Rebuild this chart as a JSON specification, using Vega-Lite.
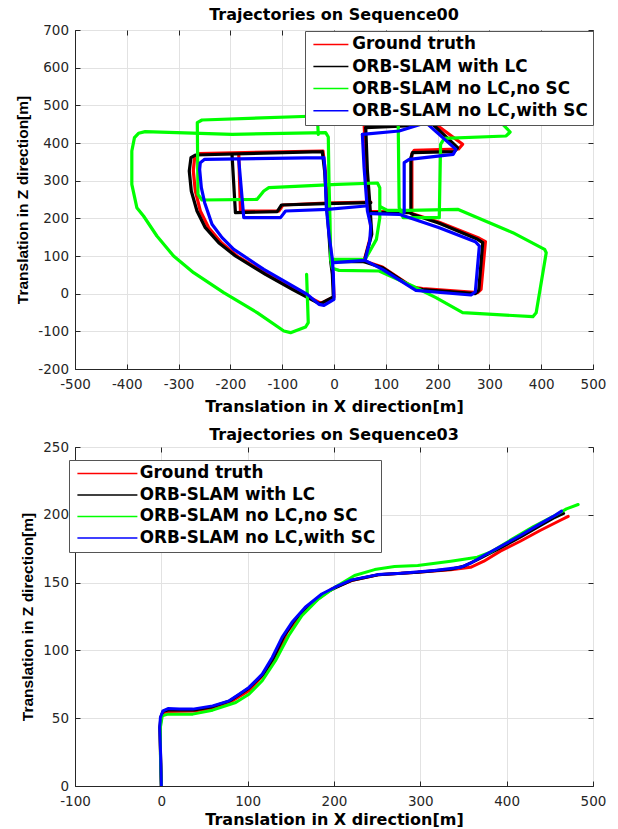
{
"$schema": "https://vega.github.io/schema/vega-lite/v6.json",
"background": "white",
"padding": {"left": 15, "top": 6, "right": 6, "bottom": 0},
"spacing": 11,
"datasets": {
"seq00": [
{"s":"Ground truth","g":"r1","i":0,"x":-22.6,"y":378.8},{"s":"Ground truth","g":"r1","i":1,"x":-261.3,"y":371.7},{"s":"Ground truth","g":"r1","i":2,"x":-269.0,"y":362.8},{"s":"Ground truth","g":"r1","i":3,"x":-271.6,"y":325.7},{"s":"Ground truth","g":"r1","i":4,"x":-267.7,"y":272.6},{"s":"Ground truth","g":"r1","i":5,"x":-258.1,"y":219.5},{"s":"Ground truth","g":"r1","i":6,"x":-241.9,"y":175.2},{"s":"Ground truth","g":"r1","i":7,"x":-217.4,"y":135.4},{"s":"Ground truth","g":"r1","i":8,"x":-187.1,"y":100.0},{"s":"Ground truth","g":"r1","i":9,"x":-129.0,"y":51.3},{"s":"Ground truth","g":"r1","i":10,"x":-77.4,"y":11.5},{"s":"Ground truth","g":"r1","i":11,"x":-30.3,"y":-22.1},{"s":"Ground truth","g":"r1","i":12,"x":-23.9,"y":-24.8},{"s":"Ground truth","g":"r1","i":13,"x":0,"y":-8.8},{"s":"Ground truth","g":"r1","i":14,"x":-1.9,"y":51.3},{"s":"Ground truth","g":"r1","i":15,"x":-5.2,"y":86.7},{"s":"Ground truth","g":"r1","i":16,"x":-8.4,"y":157.5},{"s":"Ground truth","g":"r1","i":17,"x":-12.9,"y":237.2},{"s":"Ground truth","g":"r1","i":18,"x":-16.8,"y":325.7},{"s":"Ground truth","g":"r1","i":19,"x":-21.3,"y":378.8},
{"s":"Ground truth","g":"r2","i":0,"x":-183.9,"y":371.7},{"s":"Ground truth","g":"r2","i":1,"x":-180.6,"y":219.5},{"s":"Ground truth","g":"r2","i":2,"x":-106.5,"y":219.5},{"s":"Ground truth","g":"r2","i":3,"x":-98.7,"y":235.4},{"s":"Ground truth","g":"r2","i":4,"x":-16.1,"y":240.7},{"s":"Ground truth","g":"r2","i":5,"x":71.0,"y":243.4},
{"s":"Ground truth","g":"r3","i":0,"x":58.1,"y":451.3},{"s":"Ground truth","g":"r3","i":1,"x":62.6,"y":325.7},{"s":"Ground truth","g":"r3","i":2,"x":67.7,"y":241.6},{"s":"Ground truth","g":"r3","i":3,"x":71.6,"y":157.5},{"s":"Ground truth","g":"r3","i":4,"x":58.1,"y":86.7},{"s":"Ground truth","g":"r3","i":5,"x":0,"y":86.7},
{"s":"Ground truth","g":"r4","i":0,"x":58.1,"y":86.7},{"s":"Ground truth","g":"r4","i":1,"x":93.5,"y":70.8},{"s":"Ground truth","g":"r4","i":2,"x":151.6,"y":17.7},{"s":"Ground truth","g":"r4","i":3,"x":171.0,"y":13.3},{"s":"Ground truth","g":"r4","i":4,"x":277.4,"y":2.7},{"s":"Ground truth","g":"r4","i":5,"x":283.9,"y":11.5},{"s":"Ground truth","g":"r4","i":6,"x":292.3,"y":138.1},{"s":"Ground truth","g":"r4","i":7,"x":280.6,"y":146.9},{"s":"Ground truth","g":"r4","i":8,"x":203.2,"y":189.4},{"s":"Ground truth","g":"r4","i":9,"x":151.6,"y":212.4},{"s":"Ground truth","g":"r4","i":10,"x":146.5,"y":217.7},{"s":"Ground truth","g":"r4","i":11,"x":71.0,"y":217.7},
{"s":"Ground truth","g":"r5","i":0,"x":58.1,"y":451.3},{"s":"Ground truth","g":"r5","i":1,"x":138.7,"y":454.0},{"s":"Ground truth","g":"r5","i":2,"x":180.6,"y":465.5},{"s":"Ground truth","g":"r5","i":3,"x":248.4,"y":396.5},{"s":"Ground truth","g":"r5","i":4,"x":240.6,"y":384.1},{"s":"Ground truth","g":"r5","i":5,"x":154.8,"y":380.5},{"s":"Ground truth","g":"r5","i":6,"x":150.3,"y":371.7},{"s":"Ground truth","g":"r5","i":7,"x":150.3,"y":217.7},
{"s":"ORB-SLAM with LC","g":"k1","i":0,"x":-22.6,"y":377.0},{"s":"ORB-SLAM with LC","g":"k1","i":1,"x":-267.7,"y":368.1},{"s":"ORB-SLAM with LC","g":"k1","i":2,"x":-276.1,"y":361.1},{"s":"ORB-SLAM with LC","g":"k1","i":3,"x":-279.4,"y":325.7},{"s":"ORB-SLAM with LC","g":"k1","i":4,"x":-275.5,"y":272.6},{"s":"ORB-SLAM with LC","g":"k1","i":5,"x":-264.5,"y":219.5},{"s":"ORB-SLAM with LC","g":"k1","i":6,"x":-248.4,"y":175.2},{"s":"ORB-SLAM with LC","g":"k1","i":7,"x":-222.6,"y":135.4},{"s":"ORB-SLAM with LC","g":"k1","i":8,"x":-190.3,"y":100.0},{"s":"ORB-SLAM with LC","g":"k1","i":9,"x":-132.3,"y":51.3},{"s":"ORB-SLAM with LC","g":"k1","i":10,"x":-80.6,"y":11.5},{"s":"ORB-SLAM with LC","g":"k1","i":11,"x":-32.3,"y":-23.9},{"s":"ORB-SLAM with LC","g":"k1","i":12,"x":-25.8,"y":-26.5},{"s":"ORB-SLAM with LC","g":"k1","i":13,"x":-1.3,"y":-8.8},{"s":"ORB-SLAM with LC","g":"k1","i":14,"x":-3.2,"y":51.3},{"s":"ORB-SLAM with LC","g":"k1","i":15,"x":-6.5,"y":86.7},{"s":"ORB-SLAM with LC","g":"k1","i":16,"x":-9.7,"y":157.5},{"s":"ORB-SLAM with LC","g":"k1","i":17,"x":-14.2,"y":237.2},{"s":"ORB-SLAM with LC","g":"k1","i":18,"x":-18.1,"y":325.7},{"s":"ORB-SLAM with LC","g":"k1","i":19,"x":-22.6,"y":377.0},
{"s":"ORB-SLAM with LC","g":"k2","i":0,"x":-196.8,"y":368.1},{"s":"ORB-SLAM with LC","g":"k2","i":1,"x":-190.3,"y":215.0},{"s":"ORB-SLAM with LC","g":"k2","i":2,"x":-109.7,"y":217.7},{"s":"ORB-SLAM with LC","g":"k2","i":3,"x":-101.3,"y":235.4},{"s":"ORB-SLAM with LC","g":"k2","i":4,"x":-16.1,"y":238.9},{"s":"ORB-SLAM with LC","g":"k2","i":5,"x":71.0,"y":241.6},
{"s":"ORB-SLAM with LC","g":"k3","i":0,"x":61.3,"y":440.7},{"s":"ORB-SLAM with LC","g":"k3","i":1,"x":64.5,"y":325.7},{"s":"ORB-SLAM with LC","g":"k3","i":2,"x":69.0,"y":241.6},{"s":"ORB-SLAM with LC","g":"k3","i":3,"x":72.9,"y":157.5},{"s":"ORB-SLAM with LC","g":"k3","i":4,"x":58.1,"y":85.0},{"s":"ORB-SLAM with LC","g":"k3","i":5,"x":0,"y":85.0},
{"s":"ORB-SLAM with LC","g":"k4","i":0,"x":58.1,"y":85.0},{"s":"ORB-SLAM with LC","g":"k4","i":1,"x":93.5,"y":69.0},{"s":"ORB-SLAM with LC","g":"k4","i":2,"x":151.6,"y":15.9},{"s":"ORB-SLAM with LC","g":"k4","i":3,"x":171.0,"y":10.6},{"s":"ORB-SLAM with LC","g":"k4","i":4,"x":272.9,"y":0},{"s":"ORB-SLAM with LC","g":"k4","i":5,"x":279.4,"y":8.8},{"s":"ORB-SLAM with LC","g":"k4","i":6,"x":287.1,"y":135.4},{"s":"ORB-SLAM with LC","g":"k4","i":7,"x":277.4,"y":144.2},{"s":"ORB-SLAM with LC","g":"k4","i":8,"x":203.2,"y":186.7},{"s":"ORB-SLAM with LC","g":"k4","i":9,"x":151.6,"y":210.6},{"s":"ORB-SLAM with LC","g":"k4","i":10,"x":145.2,"y":215.0},{"s":"ORB-SLAM with LC","g":"k4","i":11,"x":71.0,"y":215.0},
{"s":"ORB-SLAM with LC","g":"k5","i":0,"x":61.3,"y":440.7},{"s":"ORB-SLAM with LC","g":"k5","i":1,"x":138.7,"y":445.1},{"s":"ORB-SLAM with LC","g":"k5","i":2,"x":183.9,"y":458.4},{"s":"ORB-SLAM with LC","g":"k5","i":3,"x":238.7,"y":387.6},{"s":"ORB-SLAM with LC","g":"k5","i":4,"x":232.3,"y":377.0},{"s":"ORB-SLAM with LC","g":"k5","i":5,"x":151.6,"y":374.3},{"s":"ORB-SLAM with LC","g":"k5","i":6,"x":148.4,"y":361.1},{"s":"ORB-SLAM with LC","g":"k5","i":7,"x":148.4,"y":215.0},
{"s":"ORB-SLAM no LC,no SC","g":"g1","i":0,"x":-52.9,"y":51.3},{"s":"ORB-SLAM no LC,no SC","g":"g1","i":1,"x":-49.7,"y":-77.0},{"s":"ORB-SLAM no LC,no SC","g":"g1","i":2,"x":-54.8,"y":-88.5},{"s":"ORB-SLAM no LC,no SC","g":"g1","i":3,"x":-83.9,"y":-103.5},{"s":"ORB-SLAM no LC,no SC","g":"g1","i":4,"x":-96.8,"y":-99.1},{"s":"ORB-SLAM no LC,no SC","g":"g1","i":5,"x":-148.4,"y":-50.4},{"s":"ORB-SLAM no LC,no SC","g":"g1","i":6,"x":-212.9,"y":2.7},{"s":"ORB-SLAM no LC,no SC","g":"g1","i":7,"x":-271.0,"y":55.8},{"s":"ORB-SLAM no LC,no SC","g":"g1","i":8,"x":-309.7,"y":100.0},{"s":"ORB-SLAM no LC,no SC","g":"g1","i":9,"x":-341.9,"y":153.1},{"s":"ORB-SLAM no LC,no SC","g":"g1","i":10,"x":-367.7,"y":206.2},{"s":"ORB-SLAM no LC,no SC","g":"g1","i":11,"x":-380.6,"y":228.3},{"s":"ORB-SLAM no LC,no SC","g":"g1","i":12,"x":-390.3,"y":290.3},{"s":"ORB-SLAM no LC,no SC","g":"g1","i":13,"x":-390.3,"y":378.8},{"s":"ORB-SLAM no LC,no SC","g":"g1","i":14,"x":-385.2,"y":414.2},{"s":"ORB-SLAM no LC,no SC","g":"g1","i":15,"x":-377.4,"y":425.7},{"s":"ORB-SLAM no LC,no SC","g":"g1","i":16,"x":-364.5,"y":430.1},{"s":"ORB-SLAM no LC,no SC","g":"g1","i":17,"x":-196.8,"y":423.0},{"s":"ORB-SLAM no LC,no SC","g":"g1","i":18,"x":-16.1,"y":427.4},{"s":"ORB-SLAM no LC,no SC","g":"g1","i":19,"x":-11.0,"y":415.9},{"s":"ORB-SLAM no LC,no SC","g":"g1","i":20,"x":-9.7,"y":299.1},{"s":"ORB-SLAM no LC,no SC","g":"g1","i":21,"x":-7.7,"y":192.9},{"s":"ORB-SLAM no LC,no SC","g":"g1","i":22,"x":-6.5,"y":91.2},{"s":"ORB-SLAM no LC,no SC","g":"g1","i":23,"x":54.8,"y":91.2},
{"s":"ORB-SLAM no LC,no SC","g":"g2","i":0,"x":-30.3,"y":423.0},{"s":"ORB-SLAM no LC,no SC","g":"g2","i":1,"x":-32.3,"y":471.7},{"s":"ORB-SLAM no LC,no SC","g":"g2","i":2,"x":-254.8,"y":461.1},{"s":"ORB-SLAM no LC,no SC","g":"g2","i":3,"x":-263.9,"y":454.0},{"s":"ORB-SLAM no LC,no SC","g":"g2","i":4,"x":-262.6,"y":263.7},{"s":"ORB-SLAM no LC,no SC","g":"g2","i":5,"x":-254.8,"y":248.7},{"s":"ORB-SLAM no LC,no SC","g":"g2","i":6,"x":-148.4,"y":250.4},{"s":"ORB-SLAM no LC,no SC","g":"g2","i":7,"x":-135.5,"y":272.6},{"s":"ORB-SLAM no LC,no SC","g":"g2","i":8,"x":-125.8,"y":281.4},{"s":"ORB-SLAM no LC,no SC","g":"g2","i":9,"x":6.5,"y":290.3},{"s":"ORB-SLAM no LC,no SC","g":"g2","i":10,"x":83.9,"y":293.8},{"s":"ORB-SLAM no LC,no SC","g":"g2","i":11,"x":88.4,"y":281.4},{"s":"ORB-SLAM no LC,no SC","g":"g2","i":12,"x":88.4,"y":201.8},{"s":"ORB-SLAM no LC,no SC","g":"g2","i":13,"x":81.9,"y":144.2},{"s":"ORB-SLAM no LC,no SC","g":"g2","i":14,"x":61.3,"y":93.8},
{"s":"ORB-SLAM no LC,no SC","g":"g3","i":0,"x":122.6,"y":495},{"s":"ORB-SLAM no LC,no SC","g":"g3","i":1,"x":123.9,"y":458.4},{"s":"ORB-SLAM no LC,no SC","g":"g3","i":2,"x":125.8,"y":228.3},{"s":"ORB-SLAM no LC,no SC","g":"g3","i":3,"x":133.5,"y":201.8},{"s":"ORB-SLAM no LC,no SC","g":"g3","i":4,"x":203.2,"y":201.8},{"s":"ORB-SLAM no LC,no SC","g":"g3","i":5,"x":205.8,"y":396.5},{"s":"ORB-SLAM no LC,no SC","g":"g3","i":6,"x":212.9,"y":412.4},{"s":"ORB-SLAM no LC,no SC","g":"g3","i":7,"x":332.3,"y":418.6},{"s":"ORB-SLAM no LC,no SC","g":"g3","i":8,"x":340.0,"y":429.2},{"s":"ORB-SLAM no LC,no SC","g":"g3","i":9,"x":319.4,"y":458.4},{"s":"ORB-SLAM no LC,no SC","g":"g3","i":10,"x":295,"y":492},
{"s":"ORB-SLAM no LC,no SC","g":"g4","i":0,"x":-6.5,"y":91.2},{"s":"ORB-SLAM no LC,no SC","g":"g4","i":1,"x":-3.2,"y":67.3},{"s":"ORB-SLAM no LC,no SC","g":"g4","i":2,"x":9.7,"y":61.9},{"s":"ORB-SLAM no LC,no SC","g":"g4","i":3,"x":87.1,"y":60.2},{"s":"ORB-SLAM no LC,no SC","g":"g4","i":4,"x":151.6,"y":20.4},{"s":"ORB-SLAM no LC,no SC","g":"g4","i":5,"x":196.8,"y":-10.6},{"s":"ORB-SLAM no LC,no SC","g":"g4","i":6,"x":248.4,"y":-50.4},{"s":"ORB-SLAM no LC,no SC","g":"g4","i":7,"x":383.9,"y":-61.1},{"s":"ORB-SLAM no LC,no SC","g":"g4","i":8,"x":390.3,"y":-50.4},{"s":"ORB-SLAM no LC,no SC","g":"g4","i":9,"x":409.7,"y":108.8},{"s":"ORB-SLAM no LC,no SC","g":"g4","i":10,"x":406.5,"y":117.7},{"s":"ORB-SLAM no LC,no SC","g":"g4","i":11,"x":345.2,"y":161.9},{"s":"ORB-SLAM no LC,no SC","g":"g4","i":12,"x":300.0,"y":188.5},{"s":"ORB-SLAM no LC,no SC","g":"g4","i":13,"x":238.7,"y":223.9},{"s":"ORB-SLAM no LC,no SC","g":"g4","i":14,"x":145.2,"y":221.2},{"s":"ORB-SLAM no LC,no SC","g":"g4","i":15,"x":103.2,"y":221.2},{"s":"ORB-SLAM no LC,no SC","g":"g4","i":16,"x":90.3,"y":230.1},
{"s":"ORB-SLAM no LC,with SC","g":"b1","i":0,"x":-19.4,"y":361.1},{"s":"ORB-SLAM no LC,with SC","g":"b1","i":1,"x":-249.7,"y":356.6},{"s":"ORB-SLAM no LC,with SC","g":"b1","i":2,"x":-258.1,"y":347.8},{"s":"ORB-SLAM no LC,with SC","g":"b1","i":3,"x":-259.4,"y":330.1},{"s":"ORB-SLAM no LC,with SC","g":"b1","i":4,"x":-256.1,"y":281.4},{"s":"ORB-SLAM no LC,with SC","g":"b1","i":5,"x":-249.7,"y":241.6},{"s":"ORB-SLAM no LC,with SC","g":"b1","i":6,"x":-235.5,"y":184.1},{"s":"ORB-SLAM no LC,with SC","g":"b1","i":7,"x":-216.1,"y":148.7},{"s":"ORB-SLAM no LC,with SC","g":"b1","i":8,"x":-193.5,"y":117.7},{"s":"ORB-SLAM no LC,with SC","g":"b1","i":9,"x":-135.5,"y":64.6},{"s":"ORB-SLAM no LC,with SC","g":"b1","i":10,"x":-51.6,"y":-1.8},{"s":"ORB-SLAM no LC,with SC","g":"b1","i":11,"x":-29.0,"y":-28.3},{"s":"ORB-SLAM no LC,with SC","g":"b1","i":12,"x":-19.4,"y":-31.0},{"s":"ORB-SLAM no LC,with SC","g":"b1","i":13,"x":0,"y":-15.0},{"s":"ORB-SLAM no LC,with SC","g":"b1","i":14,"x":-1.3,"y":51.3},{"s":"ORB-SLAM no LC,with SC","g":"b1","i":15,"x":-3.2,"y":91.2},{"s":"ORB-SLAM no LC,with SC","g":"b1","i":16,"x":-9.7,"y":157.5},{"s":"ORB-SLAM no LC,with SC","g":"b1","i":17,"x":-14.8,"y":228.3},{"s":"ORB-SLAM no LC,with SC","g":"b1","i":18,"x":-17.4,"y":325.7},{"s":"ORB-SLAM no LC,with SC","g":"b1","i":19,"x":-19.4,"y":361.1},
{"s":"ORB-SLAM no LC,with SC","g":"b2","i":0,"x":-183.9,"y":356.6},{"s":"ORB-SLAM no LC,with SC","g":"b2","i":1,"x":-174.2,"y":201.8},{"s":"ORB-SLAM no LC,with SC","g":"b2","i":2,"x":-103.2,"y":201.8},{"s":"ORB-SLAM no LC,with SC","g":"b2","i":3,"x":-93.5,"y":219.5},{"s":"ORB-SLAM no LC,with SC","g":"b2","i":4,"x":-12.9,"y":223.9},{"s":"ORB-SLAM no LC,with SC","g":"b2","i":5,"x":61.3,"y":232.7},
{"s":"ORB-SLAM no LC,with SC","g":"b3","i":0,"x":54.8,"y":423.0},{"s":"ORB-SLAM no LC,with SC","g":"b3","i":1,"x":58.1,"y":334.5},{"s":"ORB-SLAM no LC,with SC","g":"b3","i":2,"x":64.5,"y":219.5},{"s":"ORB-SLAM no LC,with SC","g":"b3","i":3,"x":71.0,"y":179.6},{"s":"ORB-SLAM no LC,with SC","g":"b3","i":4,"x":69.0,"y":139.8},{"s":"ORB-SLAM no LC,with SC","g":"b3","i":5,"x":60.0,"y":88.5},{"s":"ORB-SLAM no LC,with SC","g":"b3","i":6,"x":0,"y":82.3},
{"s":"ORB-SLAM no LC,with SC","g":"b4","i":0,"x":60.0,"y":88.5},{"s":"ORB-SLAM no LC,with SC","g":"b4","i":1,"x":93.5,"y":64.6},{"s":"ORB-SLAM no LC,with SC","g":"b4","i":2,"x":158.1,"y":8.8},{"s":"ORB-SLAM no LC,with SC","g":"b4","i":3,"x":264.5,"y":-3.5},{"s":"ORB-SLAM no LC,with SC","g":"b4","i":4,"x":272.9,"y":5.3},{"s":"ORB-SLAM no LC,with SC","g":"b4","i":5,"x":280.6,"y":126.5},{"s":"ORB-SLAM no LC,with SC","g":"b4","i":6,"x":272.9,"y":138.1},{"s":"ORB-SLAM no LC,with SC","g":"b4","i":7,"x":203.2,"y":175.2},{"s":"ORB-SLAM no LC,with SC","g":"b4","i":8,"x":164.5,"y":192.9},{"s":"ORB-SLAM no LC,with SC","g":"b4","i":9,"x":125.8,"y":210.6},{"s":"ORB-SLAM no LC,with SC","g":"b4","i":10,"x":71.0,"y":212.4},
{"s":"ORB-SLAM no LC,with SC","g":"b5","i":0,"x":54.8,"y":423.0},{"s":"ORB-SLAM no LC,with SC","g":"b5","i":1,"x":125.8,"y":431.9},{"s":"ORB-SLAM no LC,with SC","g":"b5","i":2,"x":177.4,"y":454.0},{"s":"ORB-SLAM no LC,with SC","g":"b5","i":3,"x":235.5,"y":383.2},{"s":"ORB-SLAM no LC,with SC","g":"b5","i":4,"x":230.3,"y":369.9},{"s":"ORB-SLAM no LC,with SC","g":"b5","i":5,"x":145.2,"y":356.6},{"s":"ORB-SLAM no LC,with SC","g":"b5","i":6,"x":135.5,"y":347.8},{"s":"ORB-SLAM no LC,with SC","g":"b5","i":7,"x":135.5,"y":215.0}
],
"seq03": [
{"s":"Ground truth","g":"r","i":0,"x":0,"y":0},{"s":"Ground truth","g":"r","i":1,"x":-1,"y":23},{"s":"Ground truth","g":"r","i":2,"x":-1.5,"y":43},{"s":"Ground truth","g":"r","i":3,"x":0,"y":51},{"s":"Ground truth","g":"r","i":4,"x":2,"y":54},{"s":"Ground truth","g":"r","i":5,"x":8,"y":55},{"s":"Ground truth","g":"r","i":6,"x":40,"y":55.4},{"s":"Ground truth","g":"r","i":7,"x":60,"y":57.5},{"s":"Ground truth","g":"r","i":8,"x":82,"y":62.8},{"s":"Ground truth","g":"r","i":9,"x":101.5,"y":70.2},{"s":"Ground truth","g":"r","i":10,"x":120.7,"y":83.7},{"s":"Ground truth","g":"r","i":11,"x":134.1,"y":97.3},{"s":"Ground truth","g":"r","i":12,"x":145.6,"y":113.3},{"s":"Ground truth","g":"r","i":13,"x":159,"y":124.4},{"s":"Ground truth","g":"r","i":14,"x":176.2,"y":135.5},{"s":"Ground truth","g":"r","i":15,"x":197.3,"y":145.3},{"s":"Ground truth","g":"r","i":16,"x":220.3,"y":151.5},{"s":"Ground truth","g":"r","i":17,"x":251,"y":155.7},{"s":"Ground truth","g":"r","i":18,"x":297,"y":157.6},{"s":"Ground truth","g":"r","i":19,"x":335.2,"y":159.4},{"s":"Ground truth","g":"r","i":20,"x":358.2,"y":161.3},{"s":"Ground truth","g":"r","i":21,"x":373.6,"y":165.8},{"s":"Ground truth","g":"r","i":22,"x":392.7,"y":173.2},{"s":"Ground truth","g":"r","i":23,"x":415.7,"y":180.5},{"s":"Ground truth","g":"r","i":24,"x":438.7,"y":188.4},{"s":"Ground truth","g":"r","i":25,"x":461.7,"y":195.8},{"s":"Ground truth","g":"r","i":26,"x":471.3,"y":198.8},
{"s":"ORB-SLAM with LC","g":"k","i":0,"x":0,"y":0},{"s":"ORB-SLAM with LC","g":"k","i":1,"x":-0.9,"y":23},{"s":"ORB-SLAM with LC","g":"k","i":2,"x":-1.7,"y":43},{"s":"ORB-SLAM with LC","g":"k","i":3,"x":-0.5,"y":51},{"s":"ORB-SLAM with LC","g":"k","i":4,"x":2,"y":55},{"s":"ORB-SLAM with LC","g":"k","i":5,"x":8,"y":56},{"s":"ORB-SLAM with LC","g":"k","i":6,"x":38,"y":56},{"s":"ORB-SLAM with LC","g":"k","i":7,"x":58,"y":58.2},{"s":"ORB-SLAM with LC","g":"k","i":8,"x":80,"y":63},{"s":"ORB-SLAM with LC","g":"k","i":9,"x":100,"y":71.5},{"s":"ORB-SLAM with LC","g":"k","i":10,"x":118,"y":82.5},{"s":"ORB-SLAM with LC","g":"k","i":11,"x":130.5,"y":95},{"s":"ORB-SLAM with LC","g":"k","i":12,"x":142,"y":110.5},{"s":"ORB-SLAM with LC","g":"k","i":13,"x":153.5,"y":121.5},{"s":"ORB-SLAM with LC","g":"k","i":14,"x":169,"y":132.5},{"s":"ORB-SLAM with LC","g":"k","i":15,"x":188,"y":141.8},{"s":"ORB-SLAM with LC","g":"k","i":16,"x":202,"y":146.3},{"s":"ORB-SLAM with LC","g":"k","i":17,"x":221,"y":151.8},{"s":"ORB-SLAM with LC","g":"k","i":18,"x":251,"y":155.8},{"s":"ORB-SLAM with LC","g":"k","i":19,"x":297,"y":157.6},{"s":"ORB-SLAM with LC","g":"k","i":20,"x":335,"y":159.8},{"s":"ORB-SLAM with LC","g":"k","i":21,"x":350,"y":162},{"s":"ORB-SLAM with LC","g":"k","i":22,"x":365,"y":166.5},{"s":"ORB-SLAM with LC","g":"k","i":23,"x":392.7,"y":175.5},{"s":"ORB-SLAM with LC","g":"k","i":24,"x":415.7,"y":183.5},{"s":"ORB-SLAM with LC","g":"k","i":25,"x":438.7,"y":192},{"s":"ORB-SLAM with LC","g":"k","i":26,"x":454,"y":197.5},{"s":"ORB-SLAM with LC","g":"k","i":27,"x":466,"y":201},
{"s":"ORB-SLAM no LC,no SC","g":"g","i":0,"x":0,"y":0},{"s":"ORB-SLAM no LC,no SC","g":"g","i":1,"x":-1.1,"y":23.4},{"s":"ORB-SLAM no LC,no SC","g":"g","i":2,"x":-1.1,"y":43.1},{"s":"ORB-SLAM no LC,no SC","g":"g","i":3,"x":1.1,"y":51.7},{"s":"ORB-SLAM no LC,no SC","g":"g","i":4,"x":7.7,"y":53},{"s":"ORB-SLAM no LC,no SC","g":"g","i":5,"x":36.4,"y":53},{"s":"ORB-SLAM no LC,no SC","g":"g","i":6,"x":59.4,"y":55.9},{"s":"ORB-SLAM no LC,no SC","g":"g","i":7,"x":86.2,"y":61.6},{"s":"ORB-SLAM no LC,no SC","g":"g","i":8,"x":101.5,"y":67.7},{"s":"ORB-SLAM no LC,no SC","g":"g","i":9,"x":116.9,"y":77.6},{"s":"ORB-SLAM no LC,no SC","g":"g","i":10,"x":132.2,"y":92.4},{"s":"ORB-SLAM no LC,no SC","g":"g","i":11,"x":147.5,"y":110.8},{"s":"ORB-SLAM no LC,no SC","g":"g","i":12,"x":162.8,"y":125.6},{"s":"ORB-SLAM no LC,no SC","g":"g","i":13,"x":182,"y":137.9},{"s":"ORB-SLAM no LC,no SC","g":"g","i":14,"x":201.1,"y":146.6},{"s":"ORB-SLAM no LC,no SC","g":"g","i":15,"x":223.8,"y":155.2},{"s":"ORB-SLAM no LC,no SC","g":"g","i":16,"x":247.1,"y":159.6},{"s":"ORB-SLAM no LC,no SC","g":"g","i":17,"x":270.1,"y":161.8},{"s":"ORB-SLAM no LC,no SC","g":"g","i":18,"x":297,"y":162.6},{"s":"ORB-SLAM no LC,no SC","g":"g","i":19,"x":335.2,"y":165.8},{"s":"ORB-SLAM no LC,no SC","g":"g","i":20,"x":365.9,"y":168.7},{"s":"ORB-SLAM no LC,no SC","g":"g","i":21,"x":381.2,"y":172.4},{"s":"ORB-SLAM no LC,no SC","g":"g","i":22,"x":400.4,"y":179.8},{"s":"ORB-SLAM no LC,no SC","g":"g","i":23,"x":431,"y":191.4},{"s":"ORB-SLAM no LC,no SC","g":"g","i":24,"x":457.9,"y":200.2},{"s":"ORB-SLAM no LC,no SC","g":"g","i":25,"x":469.3,"y":204.4},{"s":"ORB-SLAM no LC,no SC","g":"g","i":26,"x":482.8,"y":207.6},
{"s":"ORB-SLAM no LC,with SC","g":"b","i":0,"x":0,"y":0},{"s":"ORB-SLAM no LC,with SC","g":"b","i":1,"x":-0.8,"y":23.4},{"s":"ORB-SLAM no LC,with SC","g":"b","i":2,"x":-1.9,"y":43.1},{"s":"ORB-SLAM no LC,with SC","g":"b","i":3,"x":-1.1,"y":50.5},{"s":"ORB-SLAM no LC,with SC","g":"b","i":4,"x":1.9,"y":55.4},{"s":"ORB-SLAM no LC,with SC","g":"b","i":5,"x":7.7,"y":57.1},{"s":"ORB-SLAM no LC,with SC","g":"b","i":6,"x":21,"y":56.7},{"s":"ORB-SLAM no LC,with SC","g":"b","i":7,"x":36.4,"y":56.7},{"s":"ORB-SLAM no LC,with SC","g":"b","i":8,"x":59.4,"y":59.1},{"s":"ORB-SLAM no LC,with SC","g":"b","i":9,"x":78.5,"y":62.8},{"s":"ORB-SLAM no LC,with SC","g":"b","i":10,"x":90,"y":67.7},{"s":"ORB-SLAM no LC,with SC","g":"b","i":11,"x":101.5,"y":72.7},{"s":"ORB-SLAM no LC,with SC","g":"b","i":12,"x":116.9,"y":82.5},{"s":"ORB-SLAM no LC,with SC","g":"b","i":13,"x":128.4,"y":94.8},{"s":"ORB-SLAM no LC,with SC","g":"b","i":14,"x":139.8,"y":109.6},{"s":"ORB-SLAM no LC,with SC","g":"b","i":15,"x":151.3,"y":120.7},{"s":"ORB-SLAM no LC,with SC","g":"b","i":16,"x":166.7,"y":131.8},{"s":"ORB-SLAM no LC,with SC","g":"b","i":17,"x":185.8,"y":141.6},{"s":"ORB-SLAM no LC,with SC","g":"b","i":18,"x":201.1,"y":146.6},{"s":"ORB-SLAM no LC,with SC","g":"b","i":19,"x":220.3,"y":152.0},{"s":"ORB-SLAM no LC,with SC","g":"b","i":20,"x":251.0,"y":155.9},{"s":"ORB-SLAM no LC,with SC","g":"b","i":21,"x":277.8,"y":156.9},{"s":"ORB-SLAM no LC,with SC","g":"b","i":22,"x":316.1,"y":158.9},{"s":"ORB-SLAM no LC,with SC","g":"b","i":23,"x":346.7,"y":161.3},{"s":"ORB-SLAM no LC,with SC","g":"b","i":24,"x":358.2,"y":164.3},{"s":"ORB-SLAM no LC,with SC","g":"b","i":25,"x":373.6,"y":170.0},{"s":"ORB-SLAM no LC,with SC","g":"b","i":26,"x":392.7,"y":176.6},{"s":"ORB-SLAM no LC,with SC","g":"b","i":27,"x":415.7,"y":184.7},{"s":"ORB-SLAM no LC,with SC","g":"b","i":28,"x":438.7,"y":193.3},{"s":"ORB-SLAM no LC,with SC","g":"b","i":29,"x":454.0,"y":198.8},{"s":"ORB-SLAM no LC,with SC","g":"b","i":30,"x":463.6,"y":202.7}
]
},
"vconcat": [
{
"width": 518, "height": 339,
"title": {"text": "Trajectories on Sequence00", "offset": 0},
"data": {"name": "seq00"},
"layer": [
{
"mark": {"type": "line", "strokeWidth": 3.2, "strokeJoin": "round", "strokeCap": "round", "clip": true},
"encoding": {
"x": {"field": "x", "type": "quantitative", "scale": {"domain": [-500, 500], "nice": false, "zero": false}, "axis": {"values": [-500,-400,-300,-200,-100,0,100,200,300,400,500], "title": "Translation in X direction[m]"}},
"y": {"field": "y", "type": "quantitative", "scale": {"domain": [-200, 700], "nice": false, "zero": false}, "axis": {"values": [-200,-100,0,100,200,300,400,500,600,700], "title": "Translation in Z direction[m]"}},
"color": {"field": "s", "type": "nominal", "scale": {"domain": ["Ground truth","ORB-SLAM with LC","ORB-SLAM no LC,no SC","ORB-SLAM no LC,with SC"], "range": ["#ff0000","#000000","#00ff00","#0000ff"]},
"legend": {"title": null, "orient": "none", "legendX": 230, "legendY": 1, "symbolType": "M-3.5,0H3.5", "symbolSize": 100, "symbolOffset": 12.5, "labelOffset": 13, "symbolStrokeWidth": 1.5, "padding": 5, "rowPadding": 4.1}},
"detail": {"field": "g", "type": "nominal"},
"order": {"field": "i", "type": "quantitative"}
}
},
{
"mark": {"type": "point", "opacity": 0},
"encoding": {
"x": {"field": "x", "type": "quantitative", "scale": {"domain": [-500, 500], "nice": false, "zero": false}, "axis": {"orient": "top", "values": [-500,-400,-300,-200,-100,0,100,200,300,400,500], "labels": false, "title": null, "grid": false, "domain": false}},
"y": {"field": "y", "type": "quantitative", "scale": {"domain": [-200, 700], "nice": false, "zero": false}, "axis": {"orient": "right", "values": [-200,-100,0,100,200,300,400,500,600,700], "labels": false, "title": null, "grid": false, "domain": false}}
}
}
],
"resolve": {"axis": {"x": "independent", "y": "independent"}}
},
{
"width": 518, "height": 339,
"title": {"text": "Trajectories on Sequence03", "offset": -3},
"data": {"name": "seq03"},
"layer": [
{
"mark": {"type": "line", "strokeWidth": 3, "strokeJoin": "round", "strokeCap": "round", "clip": true},
"encoding": {
"x": {"field": "x", "type": "quantitative", "scale": {"domain": [-100, 500], "nice": false, "zero": false}, "axis": {"values": [-100,0,100,200,300,400,500], "title": "Translation in X direction[m]", "titlePadding": 4}},
"y": {"field": "y", "type": "quantitative", "scale": {"domain": [0, 250], "nice": false, "zero": false}, "axis": {"values": [0,50,100,150,200,250], "title": "Translation in Z direction[m]"}},
"color": {"field": "s", "type": "nominal", "scale": {"domain": ["Ground truth","ORB-SLAM with LC","ORB-SLAM no LC,no SC","ORB-SLAM no LC,with SC"], "range": ["#ff0000","#000000","#00ff00","#0000ff"]},
"legend": {"title": null, "orient": "none", "legendX": -6, "legendY": 13, "symbolType": "M-6,0H6", "symbolSize": 100, "symbolOffset": 25, "labelOffset": 24, "symbolStrokeWidth": 1.5, "padding": 5, "rowPadding": 3.5}},
"detail": {"field": "g", "type": "nominal"},
"order": {"field": "i", "type": "quantitative"}
}
},
{
"mark": {"type": "point", "opacity": 0},
"encoding": {
"x": {"field": "x", "type": "quantitative", "scale": {"domain": [-100, 500], "nice": false, "zero": false}, "axis": {"orient": "top", "values": [-100,0,100,200,300,400,500], "labels": false, "title": null, "grid": false, "domain": false}},
"y": {"field": "y", "type": "quantitative", "scale": {"domain": [0, 250], "nice": false, "zero": false}, "axis": {"orient": "right", "values": [0,50,100,150,200,250], "labels": false, "title": null, "grid": false, "domain": false}}
}
}
],
"resolve": {"axis": {"x": "independent", "y": "independent"}}
}
],
"resolve": {"legend": {"color": "independent"}},
"config": {
"view": {"stroke": "#262626", "strokeWidth": 1},
"axis": {"grid": true, "gridColor": "#e2e2e2", "gridWidth": 1, "domainColor": "#262626", "tickColor": "#262626", "tickSize": -5, "labelFont": "DejaVu Sans", "labelFontSize": 13.5, "labelColor": "#262626", "labelFlush": false, "labelOverlap": false, "labelExpr": "'' + datum.value", "titleColor": "black", "titleFontWeight": "bold"},
"axisX": {"labelPadding": 13, "titleFont": "DejaVu Sans", "titleFontSize": 16, "titlePadding": 8},
"axisY": {"labelPadding": 11.5, "titleFont": "Liberation Sans", "titleFontSize": 15.5, "titlePadding": 7},
"title": {"font": "DejaVu Sans", "fontSize": 16, "fontWeight": "bold", "color": "black"},
"legend": {"labelFont": "DejaVu Sans", "labelFontWeight": "bold", "labelFontSize": 16.8, "labelColor": "black", "labelLimit": 400, "fillColor": "white", "strokeColor": "#555555", "strokeWidth": 1}
}
}
